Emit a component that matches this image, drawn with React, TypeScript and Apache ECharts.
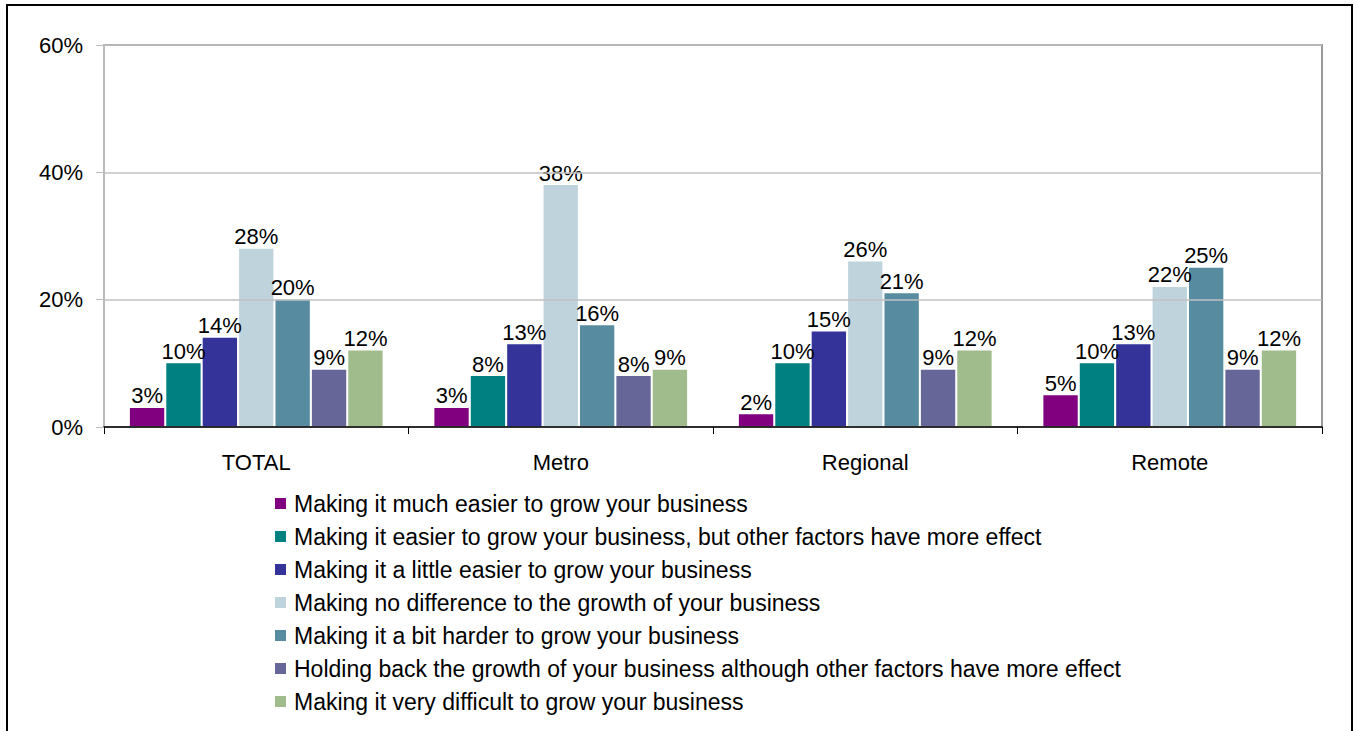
import React, { useEffect, useRef } from "react";
import * as echarts from "echarts";

const categories = ["TOTAL", "Metro", "Regional", "Remote"];
const seriesNames = [
  "Making it much easier to grow your business",
  "Making it easier to grow your business, but other factors have more effect",
  "Making it a little easier to grow your business",
  "Making no difference to the growth of your business",
  "Making it a bit harder to grow your business",
  "Holding back the growth of your business although other factors have more effect",
  "Making it very difficult to grow your business",
];
const muchEasier = [3, 3, 2, 5];
const easierOther = [10, 8, 10, 10];
const littleEasier = [14, 13, 15, 13];
const noDifference = [28, 38, 26, 22];
const bitHarder = [20, 16, 21, 25];
const holdingBack = [9, 8, 9, 9];
const veryDifficult = [12, 9, 12, 12];
const seriesValues = [muchEasier, easierOther, littleEasier, noDifference, bitHarder, holdingBack, veryDifficult];
const colors = ["#800080", "#008080", "#333399", "#BFD3DD", "#578CA0", "#666699", "#A1BC8C"];
const yTicks = [0, 20, 40, 60];

export default function App() {
  const ref = useRef<HTMLDivElement>(null);
  useEffect(() => {
    if (!ref.current) return;
    const chart = echarts.init(ref.current, null, { renderer: "svg" });
    const font = "Liberation Sans, Arial, sans-serif";
    chart.setOption({
      animation: false,
      backgroundColor: "#ffffff",
      textStyle: { fontFamily: font },
      graphic: [
        {
          type: "rect",
          shape: { x: 7, y: 5, width: 1345, height: 760 },
          style: { fill: "none", stroke: "#000", lineWidth: 2 },
          silent: true,
        },
      ],
      grid: {
        left: 104,
        right: 36,
        top: 45,
        bottom: 304,
        containLabel: false,
        show: true,
        borderColor: "#999",
        borderWidth: 2,
        backgroundColor: "transparent",
      },
      legend: {
        orient: "vertical",
        left: 270,
        top: 487,
        itemWidth: 11,
        itemHeight: 11,
        itemGap: 10,
        icon: "rect",
        textStyle: { fontSize: 23, color: "#000", fontFamily: font, lineHeight: 23, padding: [0, 0, 0, 3] },
        data: seriesNames,
      },
      xAxis: {
        type: "category",
        data: categories,
        z: 3,
        axisLine: { lineStyle: { color: "#000", width: 1.5 } },
        axisTick: { show: true, length: 7, lineStyle: { color: "#000" } },
        axisLabel: { fontSize: 22, color: "#000", margin: 24, fontFamily: font },
        splitLine: { show: false },
      },
      yAxis: {
        type: "value",
        min: 0,
        max: 60,
        interval: 20,
        z: 3,
        axisLine: { show: true, lineStyle: { color: "#bbb", width: 2 } },
        axisTick: { show: true, length: 8, lineStyle: { color: "#bbb" } },
        axisLabel: {
          fontSize: 22,
          color: "#000",
          margin: 21,
          fontFamily: font,
          formatter: (v: number) => (yTicks.includes(v) ? v + "%" : ""),
        },
        splitLine: { show: true, lineStyle: { color: "#c0c0c0", width: 1.5 } },
      },
      series: seriesNames.map((name, i) => ({
        name,
        type: "bar",
        data: seriesValues[i],
        barGap: "6%",
        barCategoryGap: "17%",
        itemStyle: { color: colors[i] },
        label: {
          show: true,
          position: "top",
          distance: 1,
          formatter: "{c}%",
          fontSize: 22,
          color: "#000",
          fontFamily: font,
        },
      })),
    });
    return () => chart.dispose();
  }, []);
  return (
    <div
      ref={ref}
      style={{ position: "fixed", left: 0, top: 0, width: 1358, height: 731 }}
    />
  );
}
